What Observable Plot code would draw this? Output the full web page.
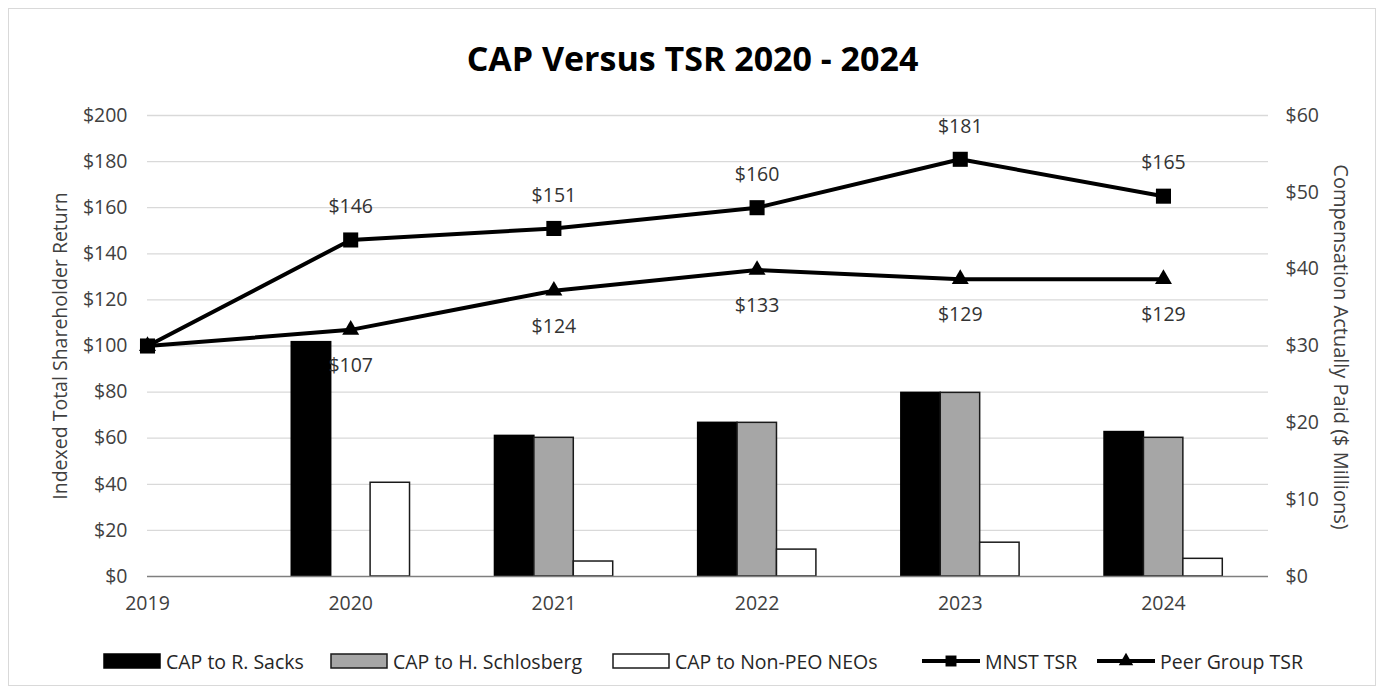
<!DOCTYPE html>
<html><head><meta charset="utf-8">
<script src="https://cdn.jsdelivr.net/npm/d3@7"></script>
<script src="https://cdn.jsdelivr.net/npm/@observablehq/plot@0.6"></script>
<style>
body{margin:0;background:#fff;font-family:"Open Sans",sans-serif;width:1385px;height:693px;overflow:hidden;}
#frame{position:absolute;left:8px;top:8px;width:1368px;height:678px;border:1px solid #d9d9d9;box-sizing:border-box;}
#title{position:absolute;left:0;top:36px;width:1385px;text-align:center;font-weight:bold;font-size:34px;line-height:44px;color:#000;}
#chart{position:absolute;left:0;top:90px;}
.ytitle{position:absolute;line-height:24px;color:#404040;white-space:nowrap;}
.leg{position:absolute;top:649px;height:24px;display:flex;align-items:center;font-size:19.5px;color:#262626;white-space:nowrap;}
.leg svg{margin-right:5px;}
</style></head>
<body>
<div id="frame"></div>
<div id="title">CAP Versus TSR 2020 - 2024</div>
<div id="chart"></div>
<div class="ytitle" id="ylab">Indexed Total Shareholder Return</div>
<div class="ytitle" id="ylab2">Compensation Actually Paid ($ Millions)</div>
<div id="legend"></div>
<script>
const years = [2019, 2020, 2021, 2022, 2023, 2024];
const mnstTSR = [100, 146, 151, 160, 181, 165];
const peerTSR = [100, 107, 124, 133, 129, 129];
// Compensation Actually Paid, $ millions (right axis)
const capSacks = [null, 30.5, 18.3, 20.0, 23.9, 18.8];
const capSchlosberg = [null, null, 18.05, 20.0, 23.9, 18.05];
const capNonPEO = [null, 12.2, 1.95, 3.5, 4.4, 2.3];
const leftTicks = [0, 20, 40, 60, 80, 100, 120, 140, 160, 180, 200];
const rightTicks = [0, 10, 20, 30, 40, 50, 60];
const seriesNames = ["CAP to R. Sacks", "CAP to H. Schlosberg", "CAP to Non-PEO NEOs", "MNST TSR", "Peer Group TSR"];

const toLeft = v => v * 200 / 60;          // right-axis value -> left-axis units
const barW = 0.194, groupStart = -0.29;
const barSeries = [
  {name: seriesNames[0], values: capSacks, fill: "#000000", stroke: "#000000"},
  {name: seriesNames[1], values: capSchlosberg, fill: "#a6a6a6", stroke: "#1a1a1a"},
  {name: seriesNames[2], values: capNonPEO, fill: "#ffffff", stroke: "#1a1a1a"}
];
const bars = [];
barSeries.forEach((s, k) => years.forEach((y, i) => {
  if (s.values[i] != null) bars.push({year: y, k, v: toLeft(s.values[i]), fill: s.fill, stroke: s.stroke});
}));
const mnst = years.map((y, i) => ({year: y, v: mnstTSR[i]}));
const peer = years.map((y, i) => ({year: y, v: peerTSR[i]}));

const chart = Plot.plot({
  width: 1385, height: 535,
  marginLeft: 147, marginRight: 117, marginTop: 25, marginBottom: 49,
  style: {fontFamily: "Open Sans, sans-serif", fontSize: "19px", color: "#404040", background: "transparent"},
  x: {type: "linear", domain: [2019, 2024.517]},
  y: {domain: [0, 200]},
  marks: [
    Plot.ruleY(leftTicks.slice(1), {stroke: "#d9d9d9", strokeWidth: 1.3}),
    Plot.rect(bars, {x1: d => d.year + groupStart + d.k * barW, x2: d => d.year + groupStart + (d.k + 1) * barW,
      y1: 0, y2: "v", fill: "fill", stroke: "stroke", strokeWidth: 1.5}),
    Plot.ruleY([0], {stroke: "#7f7f7f", strokeWidth: 1.5}),
    Plot.line(peer, {x: "year", y: "v", stroke: "#000", strokeWidth: 4}),
    Plot.line(mnst, {x: "year", y: "v", stroke: "#000", strokeWidth: 4}),
    Plot.dot(peer, {x: "year", y: "v", symbol: "triangle", r: 6.3, fill: "#000"}),
    Plot.dot(mnst, {x: "year", y: "v", symbol: "square", r: 8.5, fill: "#000"}),
    Plot.text(mnst.slice(1), {x: "year", y: "v", text: d => "$" + d.v, dy: -33, fill: "#333", fontSize: 19.5}),
    Plot.text(peer.slice(1), {x: "year", y: "v", text: d => "$" + d.v, dy: 36, fill: "#333", fontSize: 19.5}),
    Plot.axisY(leftTicks, {anchor: "left", tickSize: 0, tickPadding: 20, tickFormat: d => "$" + d, label: null, fontSize: 19.5}),
    Plot.axisY(rightTicks.map(toLeft), {anchor: "right", tickSize: 0, tickPadding: 17, tickFormat: d => "$" + Math.round(d * 60 / 200), label: null, fontSize: 19.5}),
    Plot.axisX(years, {tickSize: 0, tickPadding: 20, tickFormat: d => String(d), label: null, fontSize: 19.5})
  ]
});
document.getElementById("chart").appendChild(chart);

// axis titles
const yl = document.getElementById("ylab");
yl.style.fontSize = "19.5px";
yl.style.left = (60 - 200) + "px"; yl.style.top = (346 - 12) + "px"; yl.style.width = "400px"; yl.style.textAlign = "center";
yl.style.transform = "rotate(-90deg)";
const yl2 = document.getElementById("ylab2");
yl2.style.fontSize = "20px";
yl2.style.left = (1341 - 200) + "px"; yl2.style.top = (347 - 12) + "px"; yl2.style.width = "400px"; yl2.style.textAlign = "center";
yl2.style.transform = "rotate(90deg)";

// legend
const legX = [103, 330, 612, 922, 1097];
const legend = document.getElementById("legend");
const ns = "http://www.w3.org/2000/svg";
seriesNames.forEach((name, i) => {
  const item = document.createElement("div");
  item.className = "leg"; item.style.left = legX[i] + "px";
  const svg = document.createElementNS(ns, "svg");
  svg.setAttribute("width", 58); svg.setAttribute("height", 18);
  if (i < 3) {
    const r = document.createElementNS(ns, "rect");
    r.setAttribute("x", 1); r.setAttribute("y", 2); r.setAttribute("width", 56); r.setAttribute("height", 14);
    r.setAttribute("fill", barSeries[i].fill); r.setAttribute("stroke", barSeries[i].stroke); r.setAttribute("stroke-width", 1.5);
    svg.appendChild(r);
  } else {
    const l = document.createElementNS(ns, "line");
    l.setAttribute("x1", 0); l.setAttribute("x2", 58); l.setAttribute("y1", 9); l.setAttribute("y2", 9);
    l.setAttribute("stroke", "#000"); l.setAttribute("stroke-width", 4);
    svg.appendChild(l);
    const p = document.createElementNS(ns, "path");
    p.setAttribute("d", d3.symbol(i === 3 ? d3.symbolSquare : d3.symbolTriangle, i === 3 ? 120 : 90)());
    p.setAttribute("transform", "translate(29,9)");
    svg.appendChild(p);
  }
  item.appendChild(svg);
  const t = document.createElement("span"); t.textContent = name;
  item.appendChild(t);
  legend.appendChild(item);
});
</script>
</body></html>
